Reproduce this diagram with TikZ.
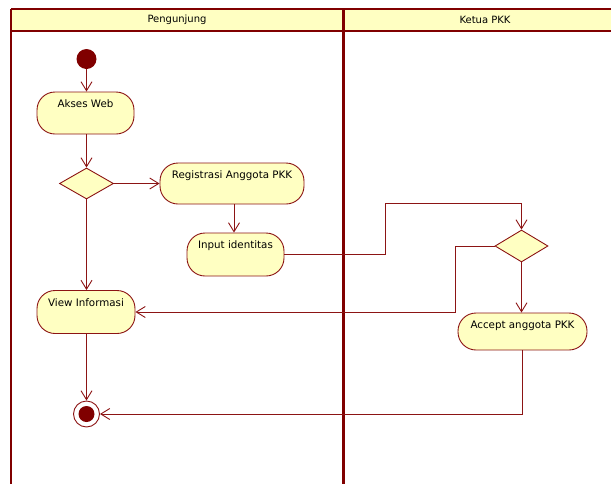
\documentclass[tikz,border=0pt]{standalone}
\usepackage{fontspec}
\setmainfont{DejaVu Sans}
\usetikzlibrary{shapes.geometric,arrows.meta}
\definecolor{lane}{RGB}{128,0,0}
\definecolor{edgec}{RGB}{140,20,20}
\definecolor{fillc}{RGB}{255,255,194}
\pgfdeclarelayer{bg}
\pgfsetlayers{bg,main}
\tikzset{
  act/.style={draw=edgec, fill=fillc, line width=0.9pt, rounded corners=18pt,
    inner xsep=0pt, inner ysep=4pt, text height=11.5pt, align=center,
    font=\fontsize{10.3}{12}\selectfont},
  dec/.style={diamond, draw=edgec, fill=fillc, line width=0.9pt, inner sep=0pt,
    minimum width=54pt, minimum height=31pt},
  flow/.style={draw=edgec, line width=0.9pt, -{Straight Barb[length=9pt,width=11pt]}},
  frame/.style={draw=lane, line width=2.3pt},
  head/.style={font=\fontsize{10}{12}\selectfont, inner sep=0pt}
}
\begin{document}
\begin{tikzpicture}[x=1pt,y=-1pt]
\useasboundingbox (0,0) rectangle (611,483);
\clip (0,0) rectangle (611,483);
\begin{pgfonlayer}{bg}
  \fill[fillc] (11,9) rectangle (640,31);
  \draw[frame] (11,9) -- (640,9);
  \draw[frame, line width=2pt] (11,31) -- (640,31);
  \draw[frame, line width=2pt] (11,9) -- (11,495);
  \draw[frame, line width=2.6pt] (343.5,9) -- (343.5,495);
\end{pgfonlayer}
\node[head] (h1) at (177,20) {Pengunjung};
\node[head] (h2) at (485,20) {Ketua PKK};

\node[circle, fill=lane, minimum size=20pt, inner sep=0pt] (st) at (86.5,59) {};
\node[act, minimum width=97pt, text depth=22.5pt] (aw) at (85.5,113) {Akses Web};
\node[dec] (d1) at (86.5,183.5) {};
\node[act, minimum width=144pt, text depth=21.5pt] (reg) at (232,183.5) {Registrasi Anggota PKK};
\node[act, minimum width=97pt, text depth=23.5pt] (inp) at (235.5,254.5) {Input identitas};
\node[act, minimum width=98pt, text depth=23.5pt] (view) at (86,312) {View Informasi};
\node[circle, draw=edgec, fill=white, line width=0.9pt, minimum size=26pt, inner sep=0pt] (en) at (86.5,414) {};
\fill[lane] (en.center) circle (8pt);
\node[dec, minimum width=53pt, minimum height=32pt] (d2) at (521.5,246) {};
\node[act, minimum width=129pt, text depth=17.5pt] (acc) at (522.5,331.5) {Accept anggota PKK};

\coordinate (k1) at (385,203);
\coordinate (k2) at (455,312);

\draw[flow] (st) -- (st |- aw.north);
\draw[flow] (aw.south -| d1) -- (d1.north);
\draw[flow] (d1.east) -- (reg.west);
\draw[flow] (reg.south -| 234,0) -- (234,0 |- inp.north);
\draw[flow] (inp.east) -| (k1) -| (d2.north);
\draw[flow] (d2.west) -| (k2) -- (view.east);
\draw[flow] (d2.south) -- (d2.south |- acc.north);
\draw[flow] (acc.south) |- (en.east);
\draw[flow] (d1.south) -- (d1.south |- view.north);
\draw[flow] (view.south -| en) -- (en.north);
\end{tikzpicture}
\end{document}
